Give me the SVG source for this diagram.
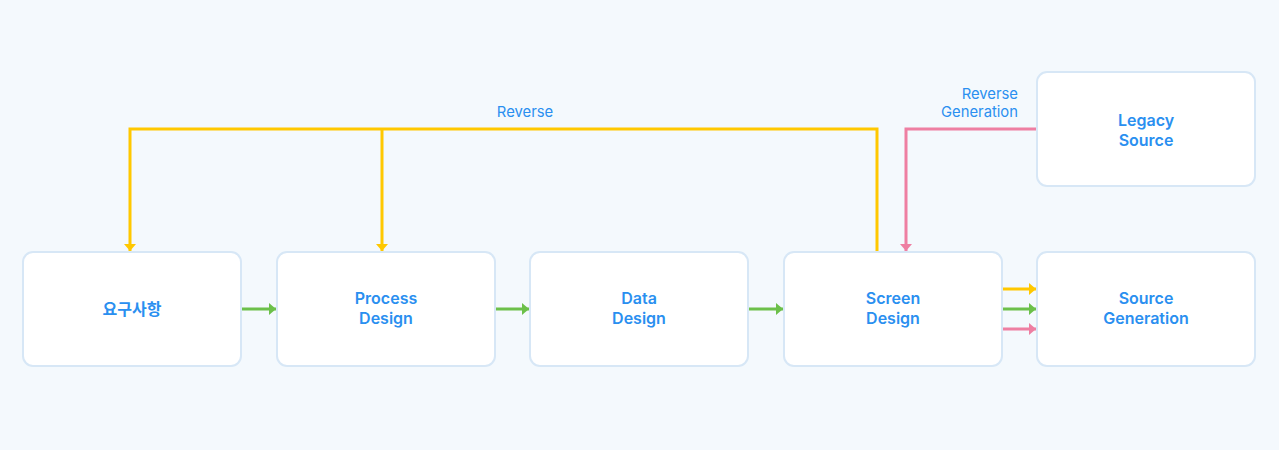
<svg xmlns="http://www.w3.org/2000/svg" width="1279" height="450" viewBox="0 0 1279 450">
<style>
.bg{fill:#f4f9fd}
.box{fill:#ffffff;stroke:#d7e7f6;stroke-width:2}
.t{font-family:Inter,"Noto Sans CJK KR",sans-serif;font-size:16px;font-weight:600;fill:#2a8ff0;text-anchor:middle}
.lbl{font-family:Inter,"Noto Sans CJK KR",sans-serif;font-size:14.8px;font-weight:400;fill:#2a8ff0}
.y{stroke:#ffc800;stroke-width:3;fill:none}
.g{stroke:#6cc04a;stroke-width:3;fill:none}
.p{stroke:#ee7fa2;stroke-width:3;fill:none}
</style>
<defs>
<marker id="ay" viewBox="0 0 7 12" refX="7" refY="6" markerWidth="7" markerHeight="12" markerUnits="userSpaceOnUse" orient="auto"><path d="M0,0 L7,6 L0,12 Z" fill="#ffc800"/></marker>
<marker id="ag" viewBox="0 0 7 12" refX="7" refY="6" markerWidth="7" markerHeight="12" markerUnits="userSpaceOnUse" orient="auto"><path d="M0,0 L7,6 L0,12 Z" fill="#6cc04a"/></marker>
<marker id="ap" viewBox="0 0 7 12" refX="7" refY="6" markerWidth="7" markerHeight="12" markerUnits="userSpaceOnUse" orient="auto"><path d="M0,0 L7,6 L0,12 Z" fill="#ee7fa2"/></marker>
</defs>
<rect class="bg" x="0" y="0" width="1279" height="450"/>
<g id="connectors">
<path class="y" d="M877,251 L877,129 L130,129 L130,251" marker-end="url(#ay)"/>
<path class="y" d="M382,129 L382,251" marker-end="url(#ay)"/>
<path class="p" d="M1036,129 L906,129 L906,251" marker-end="url(#ap)"/>
<path class="g" d="M242,309 L276,309" marker-end="url(#ag)"/>
<path class="g" d="M496,309 L529,309" marker-end="url(#ag)"/>
<path class="g" d="M749,309 L783,309" marker-end="url(#ag)"/>
<path class="y" d="M1003,289 L1036,289" marker-end="url(#ay)"/>
<path class="g" d="M1003,309 L1036,309" marker-end="url(#ag)"/>
<path class="p" d="M1003,329 L1036,329" marker-end="url(#ap)"/>
<text class="lbl" x="525" y="117" text-anchor="middle">Reverse</text>
<text class="lbl" x="1018" y="99" text-anchor="end">Reverse</text>
<text class="lbl" x="1018" y="117" text-anchor="end">Generation</text>
</g>
<g id="n-req"><rect class="box" x="23" y="252" width="218" height="114" rx="10"/><text class="t" x="132" y="315" font-weight="500">요구사항</text></g>
<g id="n-process"><rect class="box" x="277" y="252" width="218" height="114" rx="10"/><text class="t" x="386" y="304">Process</text><text class="t" x="386" y="324">Design</text></g>
<g id="n-data"><rect class="box" x="530" y="252" width="218" height="114" rx="10"/><text class="t" x="639" y="304">Data</text><text class="t" x="639" y="324">Design</text></g>
<g id="n-screen"><rect class="box" x="784" y="252" width="218" height="114" rx="10"/><text class="t" x="893" y="304">Screen</text><text class="t" x="893" y="324">Design</text></g>
<g id="n-sourcegen"><rect class="box" x="1037" y="252" width="218" height="114" rx="10"/><text class="t" x="1146" y="304">Source</text><text class="t" x="1146" y="324">Generation</text></g>
<g id="n-legacy"><rect class="box" x="1037" y="72" width="218" height="114" rx="10"/><text class="t" x="1146" y="126">Legacy</text><text class="t" x="1146" y="146">Source</text></g>
</svg>
